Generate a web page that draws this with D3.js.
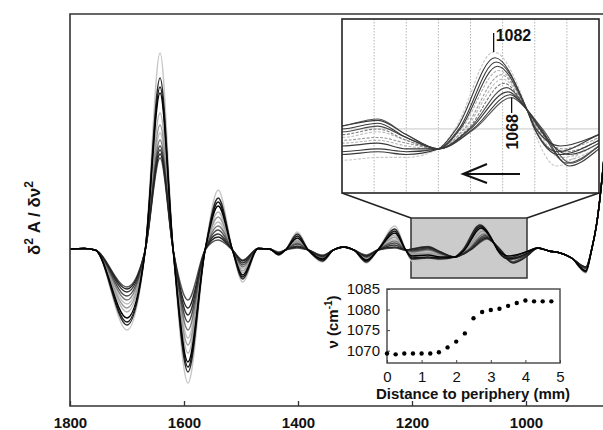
<!DOCTYPE html>
<html>
<head>
<meta charset="utf-8">
<script src="https://cdn.jsdelivr.net/npm/d3@7"></script>
<style>
  body { margin: 0; background: #fff; }
  svg { display: block; font-family: "Liberation Sans", Arial, sans-serif; }
</style>
</head>
<body>
<svg id="chart" width="603" height="430"></svg>
<script>
// second-derivative spectra, 12 traces (0 = strongest ... 11 = weakest)
// points where all traces (nearly) meet: [wavenumber, value]
const sharedNodes = [
  [1800, 1], [1775, 1.5], [1756, 0], [1668, 0], [1619, 0], [1563, 0], [1515, 0],
  [1470, 1.5], [1450, 1], [1422, 0], [1382, 0], [1338, 0], [1320, 3], [1302, 0],
  [1260, 0], [1211, 0], [1125, -7], [1056, 6.7], [979, 2], [960, -1], [940, -3],
  [920, -8], [885, 0], [875, 30], [866, 75], [856, 140]
];

// band extrema at fixed positions, one value per trace
const band1700 = [-80, -75, -72, -68, -62, -58, -54, -50, -46, -42, -39, -37];
const band1642 = [197, 172, 163, 157, 137, 125, 117, 110, 104, 100, 96, 92];
const band1593 = [-133, -122, -117, -112, -103, -95, -88, -80, -72, -65, -58, -50];
const band1540 = [60, 52, 48, 44, 38, 33, 28, 24, 20, 16, 13, 10];
const band1497 = [-32, -29, -27, -25, -23, -21, -19, -17, -15, -13, -11, -10];
const band1434 = [-5, -5, -4, -4, -4, -4, -3, -3, -3, -3, -3, -2];
const band1401 = [18, 16, 14, 12, 10, 9, 8, 7, 6, 4, 3, 2];
const band1357 = [-12, -11, -10, -9, -9, -8, -8, -7, -7, -6, -6, -5];
const band1280 = [-13, -12, -11, -10, -9, -9, -8, -7, -7, -6, -6, -5];
const band1230 = [24, 21, 19, 17, 15, 13, 11, 9, 7, 5, 3, 2];
const at1200 = [-11, -9, -8, -6, -5, -4, -3, -2, -1, 0, 1, 1];
const at1172 = [-10, -8, -7, -5, -4, -3, -1, 0, 1, 2, 3, 3.5];
const at1150 = [-10, -9, -8, -7, -6, -5, -4, -4, -3, -3, -2, -2];
const at1000 = [-3, -2, -4, -2, -5, -3, -6, -4, -6, -5, -7, -6];
const band895 = [-23, -22, -21, -21, -20, -20, -19, -19, -18, -18, -17, -17];

// shifting 1082 -> 1068 band
const riseZeroAt = [1112, 1111, 1109, 1108, 1107, 1105, 1104, 1102, 1101, 1100, 1098, 1097];
const peakAt = [1082, 1081, 1080, 1079, 1078, 1076, 1075, 1074, 1072, 1071, 1069, 1068];
const peakValue = [27, 25, 23.5, 22, 20.5, 19, 17.5, 16, 14.5, 13, 12, 11];
const fallZeroAt = [1051, 1050, 1050, 1049, 1049, 1048, 1048, 1047, 1046, 1046, 1045, 1044];
const dipAt = [1033, 1032, 1031, 1030, 1029, 1028, 1027, 1026, 1025, 1024, 1023, 1022];
const dipValue = [-13, -8, -9, -6, -10, -7, -11, -8, -12, -9, -13, -12];

const mainTicks = [1800, 1600, 1400, 1200, 1000];
const zoomGrid = [1175, 1150, 1125, 1100, 1075, 1050, 1025];

// peak position vs distance to periphery
const distance = [0, 0.25, 0.5, 0.75, 1, 1.25, 1.5, 1.75, 2, 2.25, 2.5, 2.75, 3, 3.25, 3.5, 3.75, 4, 4.25, 4.5, 4.75];
const peakPosition = [1069.3, 1069.1, 1069.3, 1069.3, 1069.3, 1069.3, 1069.6, 1070.8, 1072.2, 1074.2,
  1077.9, 1079.4, 1079.9, 1080.2, 1080.9, 1081.6, 1082.2, 1082.0, 1082.0, 1082.0];
const scatterYTicks = [1070, 1075, 1080, 1085];
const scatterXTicks = [0, 1, 2, 3, 4, 5];

const traceColors = ["#c6c6c6", "#2a2a2a", "#151515", "#000000", "#b2b2b2", "#9a9a9a",
  "#bdbdbd", "#7a7a7a", "#4a4a4a", "#333333", "#222222", "#555555"];

const fixedBands = [
  [1700, band1700], [1642, band1642], [1593, band1593], [1540, band1540], [1497, band1497],
  [1434, band1434], [1401, band1401], [1357, band1357], [1280, band1280], [1230, band1230],
  [1200, at1200], [1172, at1172], [1150, at1150], [1000, at1000], [895, band895]
];

const traces = traceColors.map((color, i) => {
  const pts = sharedNodes.map(d => [d[0], d[1]]);
  fixedBands.forEach(([w, vals]) => pts.push([w, vals[i]]));
  pts.push([riseZeroAt[i], 0], [peakAt[i], peakValue[i]], [fallZeroAt[i], 0], [dipAt[i], dipValue[i]]);
  pts.sort((a, b) => b[0] - a[0]);
  return { color, pts, light: d3.hsl(color).l };
});
// light traces underneath the dark ones
const drawOrder = traces.slice().sort((a, b) => b.light - a.light);

const svg = d3.select("#chart");
const plotL = 70, plotT = 14, plotB = 406, plotR = 640;

const x = d3.scaleLinear().domain([1800, 800]).range([plotL, plotR]);
const y = d3.scaleLinear().domain([-156, 236]).range([plotB, plotT]);

svg.append("clipPath").attr("id", "plotClip")
  .append("rect").attr("x", plotL).attr("y", plotT).attr("width", plotR - plotL).attr("height", plotB - plotT);

// highlighted region
svg.append("rect")
  .attr("x", x(1200) - 1).attr("y", y(32))
  .attr("width", x(1000) - x(1200) + 2).attr("height", y(-28) - y(32))
  .attr("fill", "#cbcbcb").attr("stroke", "#333").attr("stroke-width", 1.5);

const line = d3.line().x(d => x(d[0])).y(d => y(d[1])).curve(d3.curveMonotoneX);

svg.append("g").attr("clip-path", "url(#plotClip)")
  .selectAll("path").data(drawOrder).enter().append("path")
  .attr("d", d => line(d.pts))
  .attr("fill", "none")
  .attr("stroke", d => d.color)
  .attr("stroke-width", 1.4);

// frame
svg.append("path")
  .attr("d", `M${plotR},${plotT}H${plotL}V${plotB}H${plotR}`)
  .attr("fill", "none").attr("stroke", "#333").attr("stroke-width", 1.6);

const xAxis = svg.append("g")
  .attr("transform", `translate(0,${plotB})`)
  .call(d3.axisBottom(x).tickValues(mainTicks).tickSize(-5).tickPadding(11).tickFormat(d3.format("d")));
xAxis.select(".domain").remove();
xAxis.selectAll("line").attr("stroke", "#333").attr("stroke-width", 1.3);
xAxis.selectAll("text").attr("font-size", 15).attr("font-weight", "bold").attr("fill", "#111")
  .attr("font-family", "Liberation Sans, Arial, sans-serif");

const yLabel = svg.append("text")
  .attr("transform", "translate(40,218) rotate(-90)")
  .attr("text-anchor", "middle")
  .attr("font-size", 17).attr("font-weight", "bold").attr("fill", "#111");
yLabel.append("tspan").text("δ");
yLabel.append("tspan").attr("dy", -7).attr("font-size", 12).text("2");
yLabel.append("tspan").attr("dy", 7).text(" A / δν");
yLabel.append("tspan").attr("dy", -7).attr("font-size", 12).text("2");

// zoomed inset
const zx = d3.scaleLinear().domain([1200, 1000]).range([342, 599]);
const zy = d3.scaleLinear().domain([-22.5, 38.6]).range([193, 19]);

svg.append("path")
  .attr("d", `M${zx(1200)},${zy(-22.5)}L${x(1200) - 1},${y(32)}M${zx(1000)},${zy(-22.5)}L${x(1000) + 1},${y(32)}`)
  .attr("stroke", "#222").attr("stroke-width", 1.6).attr("fill", "none");

svg.append("rect")
  .attr("x", 342).attr("y", 19).attr("width", 257).attr("height", 174)
  .attr("fill", "#fff");

svg.append("clipPath").attr("id", "zoomClip")
  .append("rect").attr("x", 342).attr("y", 19).attr("width", 257).attr("height", 174);

const zg = svg.append("g").attr("clip-path", "url(#zoomClip)");
zg.selectAll(".grid").data(zoomGrid).enter().append("line")
  .attr("x1", d => zx(d)).attr("x2", d => zx(d)).attr("y1", 19).attr("y2", 193)
  .attr("stroke", "#b5b5b5").attr("stroke-width", 1).attr("stroke-dasharray", "1.5,1.5");
zg.append("line")
  .attr("x1", 342).attr("x2", 599).attr("y1", zy(0)).attr("y2", zy(0))
  .attr("stroke", "#c8c8c8").attr("stroke-width", 1);

const zline = d3.line().x(d => zx(d[0])).y(d => zy(d[1])).curve(d3.curveMonotoneX);
zg.selectAll(".trace").data(drawOrder).enter().append("path")
  .attr("d", d => zline(d.pts))
  .attr("fill", "none")
  .attr("stroke", d => d.light > 0.2 ? d.color : "#3a3a3a")
  .attr("stroke-width", 1.1)
  .attr("stroke-dasharray", d => d.light > 0.4 ? "3,1.5" : null);

svg.append("rect")
  .attr("x", 342).attr("y", 19).attr("width", 257).attr("height", 174)
  .attr("fill", "none").attr("stroke", "#222").attr("stroke-width", 1.6);

// annotations
svg.append("line").attr("x1", zx(1082)).attr("x2", zx(1082)).attr("y1", 33).attr("y2", zy(27))
  .attr("stroke", "#111").attr("stroke-width", 1.3);
svg.append("text").attr("x", zx(1082) + 2).attr("y", 41)
  .attr("font-size", 16).attr("font-weight", "bold").attr("fill", "#111").text("1082");
svg.append("line").attr("x1", zx(1068)).attr("x2", zx(1068)).attr("y1", zy(11)).attr("y2", 113)
  .attr("stroke", "#111").attr("stroke-width", 1.3);
svg.append("text")
  .attr("transform", `translate(${zx(1068) + 1},114) rotate(-90)`)
  .attr("text-anchor", "end").attr("dy", "0.35em")
  .attr("font-size", 16).attr("font-weight", "bold").attr("fill", "#111").text("1068");

svg.append("path")
  .attr("d", "M520,174H463M487,164L463,174L487,183")
  .attr("fill", "none").attr("stroke", "#111").attr("stroke-width", 2);

// scatter inset
const sx = d3.scaleLinear().domain([0, 5]).range([387, 560]);
const sy = d3.scaleLinear().domain([1067, 1085]).range([363, 289]);

svg.append("rect").attr("x", 387).attr("y", 289).attr("width", 173).attr("height", 74)
  .attr("fill", "#fff");

const sxAxis = svg.append("g").attr("transform", "translate(0,363)")
  .call(d3.axisBottom(sx).tickValues(scatterXTicks).tickSize(-3).tickPadding(8).tickFormat(d3.format("d")));
const syAxis = svg.append("g").attr("transform", "translate(387,0)")
  .call(d3.axisLeft(sy).tickValues(scatterYTicks).tickSize(-3).tickPadding(7).tickFormat(d3.format("d")));
[sxAxis, syAxis].forEach(g => {
  g.select(".domain").remove();
  g.selectAll("line").attr("stroke", "#444");
  g.selectAll("text").attr("font-size", 15).attr("fill", "#111")
    .attr("font-family", "Liberation Sans, Arial, sans-serif");
});

svg.append("rect").attr("x", 387).attr("y", 289).attr("width", 173).attr("height", 74)
  .attr("fill", "none").attr("stroke", "#444").attr("stroke-width", 1.4);

svg.selectAll(".dot").data(distance).enter().append("circle")
  .attr("cx", d => sx(d))
  .attr("cy", (d, i) => sy(peakPosition[i]))
  .attr("r", 2.2)
  .attr("fill", "#000");

svg.append("text").attr("x", 473).attr("y", 399)
  .attr("text-anchor", "middle").attr("font-size", 15).attr("font-weight", "bold").attr("fill", "#111")
  .text("Distance to periphery (mm)");

const nuLabel = svg.append("text")
  .attr("transform", "translate(338,322) rotate(-90)")
  .attr("text-anchor", "middle").attr("font-size", 15).attr("font-weight", "bold").attr("fill", "#111");
nuLabel.append("tspan").text("ν (cm");
nuLabel.append("tspan").attr("dy", -6).attr("font-size", 10).text("-1");
nuLabel.append("tspan").attr("dy", 6).text(")");
</script>
</body>
</html>
